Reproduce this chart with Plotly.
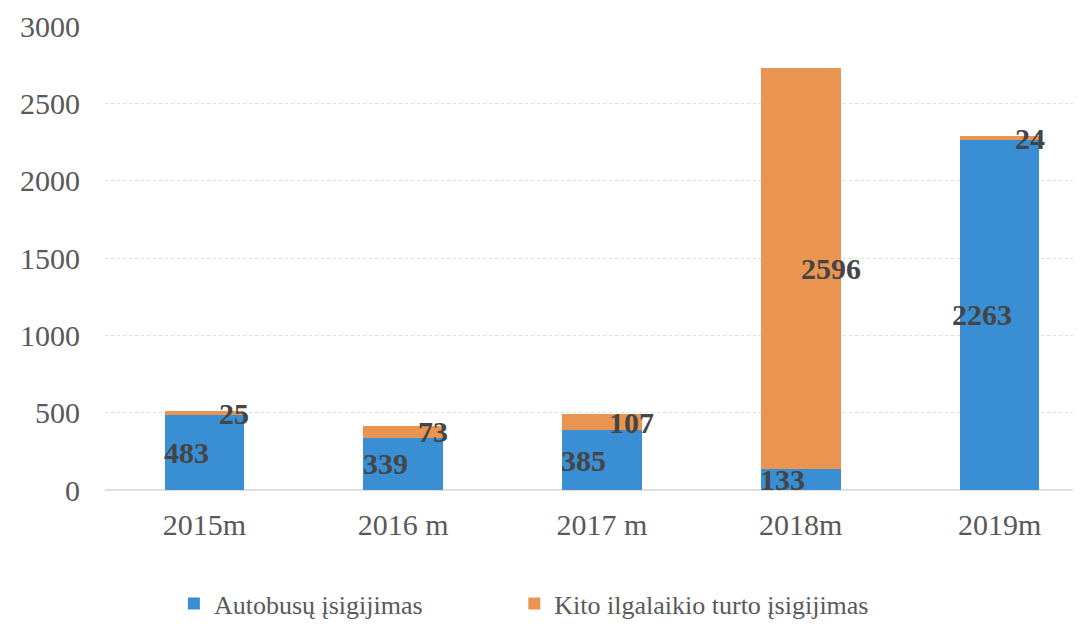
import plotly.graph_objects as go

years = ["2015m", "2016 m", "2017 m", "2018m", "2019m"]
buses = [483, 339, 385, 133, 2263]
other = [25, 73, 107, 2596, 24]
y_ticks = [0, 500, 1000, 1500, 2000, 2500, 3000]

blue = "#3a8ed4"
orange = "#e99450"
font_family = "Liberation Serif"

fig = go.Figure()
fig.add_trace(go.Bar(x=years, y=buses, name="Autobusų įsigijimas",
                     marker_color=blue, marker_line_width=0, legend="legend"))
fig.add_trace(go.Bar(x=years, y=other, name="Kito ilgalaikio turto įsigijimas",
                     marker_color=orange, marker_line_width=0, legend="legend2"))

# value labels, blue ones a bit to the left, orange ones to the right edge
for yr, b, o in zip(years, buses, other):
    fig.add_annotation(x=yr, y=b / 2, text=f"<b>{b}</b>", showarrow=False,
                       xshift=-18, font=dict(family=font_family, size=30, color="#454545"))
    fig.add_annotation(x=yr, y=b + o / 2, text=f"<b>{o}</b>", showarrow=False,
                       xshift=30, font=dict(family=font_family, size=30, color="#454545"))

legend_style = dict(orientation="h", y=-0.245, yanchor="middle", xanchor="left",
                    font=dict(size=26, color="#595959"), itemwidth=30)

fig.update_layout(
    barmode="stack",
    bargap=0.6,
    width=1081, height=642,
    margin=dict(l=97, r=0, t=18, b=160),
    paper_bgcolor="white",
    plot_bgcolor="white",
    font=dict(family=font_family, size=30, color="#595959"),
    showlegend=True,
    legend=dict(x=0.07, **legend_style),
    legend2=dict(x=0.416, **legend_style),
)
fig.update_xaxes(range=[-0.5, 4.45], showgrid=False, showline=False, zeroline=False,
                 ticks="", ticklabelstandoff=14)
fig.update_yaxes(range=[0, 3000], tickvals=y_ticks, showgrid=True, gridcolor="#dedede",
                 griddash="dot", gridwidth=1, zeroline=True, zerolinecolor="#e0e0e0",
                 showline=False, ticks="", ticklabelstandoff=24)

fig.write_html("out.html")
